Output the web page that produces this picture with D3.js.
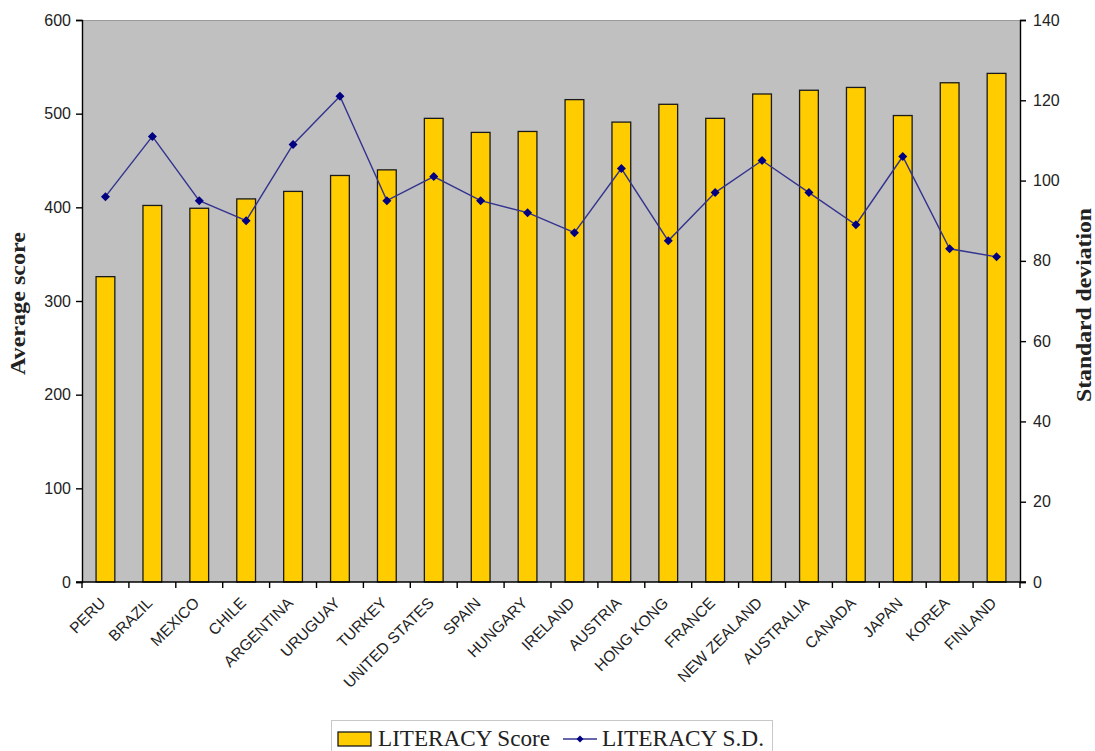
<!DOCTYPE html>
<html>
<head>
<meta charset="utf-8">
<script src="https://cdn.jsdelivr.net/npm/d3@7"></script>
<style>
  html, body { margin: 0; padding: 0; background: #fff; }
  svg { display: block; }
</style>
</head>
<body>
<svg id="chart" width="1095" height="751"></svg>
<script>
// Countries ordered by literacy score band
const countries = ["PERU", "BRAZIL", "MEXICO", "CHILE", "ARGENTINA", "URUGUAY", "TURKEY",
  "UNITED STATES", "SPAIN", "HUNGARY", "IRELAND", "AUSTRIA", "HONG KONG", "FRANCE",
  "NEW ZEALAND", "AUSTRALIA", "CANADA", "JAPAN", "KOREA", "FINLAND"];
// Average literacy score (left axis)
const literacyScore = [326, 402, 399, 409, 417, 434, 440, 495, 480, 481, 515, 491, 510, 495,
  521, 525, 528, 498, 533, 543];
// Standard deviation of literacy score (right axis)
const literacySD = [96, 111, 95, 90, 109, 121, 95, 101, 95, 92, 87, 103, 85, 97,
  105, 97, 89, 106, 83, 81];
const leftTicks = [0, 100, 200, 300, 400, 500, 600];
const rightTicks = [0, 20, 40, 60, 80, 100, 120, 140];

const svg = d3.select("#chart");
const plot = { left: 82, right: 1020, top: 20, bottom: 582 };

const x = d3.scaleBand().domain(countries).range([plot.left, plot.right]);
const yL = d3.scaleLinear().domain([0, 600]).range([plot.bottom, plot.top]);
const yR = d3.scaleLinear().domain([0, 140]).range([plot.bottom, plot.top]);

// Plot background
svg.append("rect")
  .attr("x", plot.left).attr("y", plot.top)
  .attr("width", plot.right - plot.left).attr("height", plot.bottom - plot.top)
  .attr("fill", "#c0c0c0");
svg.append("line")
  .attr("x1", plot.left).attr("x2", plot.right)
  .attr("y1", plot.top + 0.5).attr("y2", plot.top + 0.5)
  .attr("stroke", "#9a9a9a").attr("stroke-width", 1);

// Bars
const barW = x.bandwidth() * 0.4;
svg.append("g").selectAll("rect")
  .data(countries)
  .join("rect")
  .attr("x", (d) => x(d) + x.bandwidth() / 2 - barW / 2)
  .attr("y", (d, i) => yL(literacyScore[i]))
  .attr("width", barW)
  .attr("height", (d, i) => yL(0) - yL(literacyScore[i]))
  .attr("fill", "#ffcc00")
  .attr("stroke", "#1a1a1a")
  .attr("stroke-width", 1.3);

// Square diamond marker
const diamondPath = (r) => `M0,${-r}L${r},0L0,${r}L${-r},0Z`;

// Standard deviation line
const line = d3.line()
  .x((d, i) => x(countries[i]) + x.bandwidth() / 2)
  .y((d) => yR(d));
svg.append("path")
  .datum(literacySD)
  .attr("d", line)
  .attr("fill", "none")
  .attr("stroke", "#33338f")
  .attr("stroke-width", 1.4);
svg.append("g").selectAll("path")
  .data(literacySD)
  .join("path")
  .attr("d", diamondPath(4.5))
  .attr("transform", (d, i) => `translate(${x(countries[i]) + x.bandwidth() / 2},${yR(d)})`)
  .attr("fill", "#000080");

const tickFont = "'Liberation Sans', Arial, sans-serif";

// Left axis
const gL = svg.append("g").attr("transform", `translate(${plot.left},0)`)
  .call(d3.axisLeft(yL).tickValues(leftTicks).tickSize(6).tickPadding(5));
// Right axis
const gR = svg.append("g").attr("transform", `translate(${plot.right},0)`)
  .call(d3.axisRight(yR).tickValues(rightTicks).tickSize(6).tickPadding(7));
[gL, gR].forEach((g) => {
  g.select(".domain").attr("stroke", "#000").attr("stroke-width", 1.4);
  g.selectAll(".tick line").attr("stroke", "#000").attr("stroke-width", 1.4);
  g.selectAll(".tick text").attr("font-family", tickFont).attr("font-size", 16).attr("fill", "#222");
});

// Bottom axis with ticks between categories
const gB = svg.append("g").attr("transform", `translate(0,${plot.bottom})`);
gB.append("line")
  .attr("x1", plot.left - 6).attr("x2", plot.right + 6)
  .attr("y1", 0).attr("y2", 0)
  .attr("stroke", "#000").attr("stroke-width", 1.4);
const boundaries = countries.map((c) => x(c)).concat([plot.right]);
gB.selectAll("line.tk")
  .data(boundaries)
  .join("line")
  .attr("class", "tk")
  .attr("x1", (d) => d).attr("x2", (d) => d)
  .attr("y1", 0).attr("y2", 6)
  .attr("stroke", "#000").attr("stroke-width", 1.4);
gB.selectAll("text")
  .data(countries)
  .join("text")
  .attr("transform", (d) => `translate(${x(d) + x.bandwidth() / 2 + 1},${22}) rotate(-45)`)
  .attr("text-anchor", "end")
  .attr("font-family", tickFont)
  .attr("font-size", 15.5)
  .attr("fill", "#222")
  .text((d) => d);

// Axis titles
const titleFont = "'Liberation Serif', 'Times New Roman', serif";
svg.append("text")
  .attr("transform", `translate(25,303.5) rotate(-90)`)
  .attr("text-anchor", "middle")
  .attr("font-family", titleFont).attr("font-weight", "bold").attr("font-size", 20)
  .attr("textLength", 143).attr("lengthAdjust", "spacingAndGlyphs")
  .attr("fill", "#222")
  .text("Average score");
svg.append("text")
  .attr("transform", `translate(1091,305) rotate(-90)`)
  .attr("text-anchor", "middle")
  .attr("font-family", titleFont).attr("font-weight", "bold").attr("font-size", 22)
  .attr("textLength", 194).attr("lengthAdjust", "spacingAndGlyphs")
  .attr("fill", "#222")
  .text("Standard deviation");

// Legend
const lg = svg.append("g");
lg.append("rect")
  .attr("x", 331.5).attr("y", 720.5).attr("width", 441).attr("height", 40)
  .attr("fill", "#fff").attr("stroke", "#c8c8c8");
lg.append("rect")
  .attr("x", 338).attr("y", 732).attr("width", 33).attr("height", 14)
  .attr("fill", "#ffcc00").attr("stroke", "#1a1a1a").attr("stroke-width", 1.3);
lg.append("text")
  .attr("x", 378).attr("y", 746)
  .attr("font-family", titleFont).attr("font-size", 23).attr("fill", "#222")
  .attr("textLength", 172).attr("lengthAdjust", "spacingAndGlyphs")
  .text("LITERACY Score");
lg.append("line")
  .attr("x1", 563).attr("x2", 597).attr("y1", 739).attr("y2", 739)
  .attr("stroke", "#33338f").attr("stroke-width", 1.4);
lg.append("path")
  .attr("d", diamondPath(3.5))
  .attr("transform", "translate(580,739)")
  .attr("fill", "#000080");
lg.append("text")
  .attr("x", 602).attr("y", 746)
  .attr("font-family", titleFont).attr("font-size", 23).attr("fill", "#222")
  .attr("textLength", 162).attr("lengthAdjust", "spacingAndGlyphs")
  .text("LITERACY S.D.");
</script>
</body>
</html>
